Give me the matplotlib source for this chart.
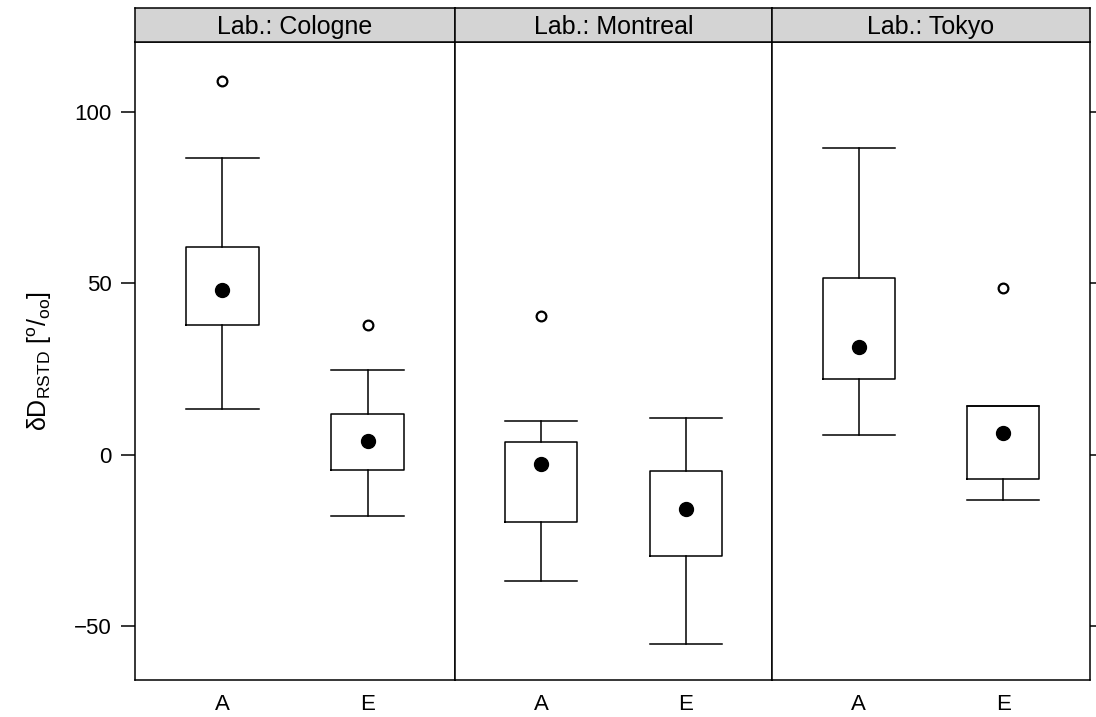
import matplotlib
matplotlib.use("Agg")
import matplotlib.pyplot as plt

plt.rcParams['font.family'] = ['Liberation Sans', 'DejaVu Sans']
plt.rcParams['mathtext.fontset'] = 'custom'
plt.rcParams['mathtext.rm'] = 'Liberation Sans'
plt.rcParams['mathtext.it'] = 'Liberation Sans'

labs = ["Cologne", "Montreal", "Tokyo"]
groups = ["A", "E"]

# per lab: [A, E]
whislo = [[13.2, -18.0], [-37.0, -55.3], [5.8, -13.2]]
q1 = [[38.0, -4.4], [-19.6, -29.7], [22.0, -7.1]]
med = [[48.2, 4.1], [-2.6, -15.8], [31.4, 6.2]]
q3 = [[60.5, 12.0], [3.8, -4.7], [51.7, 14.1]]
whishi = [[86.5, 24.6], [9.7, 10.8], [89.5, 14.1]]
fliers = [[[109.0], [38.0]], [[40.4], []], [[], [48.8]]]

W, H = 1096, 717
fig = plt.figure(figsize=(W / 100, H / 100), dpi=100)

panel_x = [135, 455, 772, 1090]
y_bot, y_top, strip_top = 680, 42, 8

lw = 1.1
for i, lab in enumerate(labs):
    x0 = panel_x[i] / W
    w = (panel_x[i + 1] - panel_x[i]) / W
    ax = fig.add_axes([x0, 1 - y_bot / H, w, (y_bot - y_top) / H])
    stats = []
    for j, g in enumerate(groups):
        stats.append(dict(label=g, whislo=whislo[i][j], q1=q1[i][j], med=med[i][j],
                          q3=q3[i][j], whishi=whishi[i][j], fliers=fliers[i][j]))
    ax.bxp(stats, positions=[1, 2], widths=0.5, capwidths=0.5,
           boxprops=dict(color='black', linewidth=lw),
           whiskerprops=dict(color='black', linewidth=lw, linestyle='-'),
           capprops=dict(color='black', linewidth=lw),
           medianprops=dict(visible=False),
           flierprops=dict(marker='o', markerfacecolor='white', markeredgecolor='black',
                           markersize=7, markeredgewidth=1.6))
    ax.plot([1, 2], med[i], 'o', color='black', markersize=10, zorder=5)
    ax.set_xlim(0.4, 2.6)
    ax.set_ylim(-65.8, 120.5)
    ax.set_yticks([-50, 0, 50, 100])
    ax.set_xticks([1, 2])
    ax.set_xticklabels(groups, fontsize=16)
    ax.tick_params(axis='x', length=0, pad=10)
    ax.tick_params(axis='y', direction='out', length=10, width=lw, pad=7, labelsize=16)
    for sp in ax.spines.values():
        sp.set_linewidth(lw)
    if i == 0:
        ax.set_ylabel(r'$\delta\mathrm{D}_{\mathrm{RSTD}}\ [^{\mathrm{o}}/_{\mathrm{oo}}]$',
                      fontsize=18, labelpad=14)
    elif i == 2:
        ax.yaxis.tick_right()
        ax.tick_params(axis='y', labelright=False, length=6)
    else:
        ax.tick_params(axis='y', left=False, labelleft=False)

    sax = fig.add_axes([x0, 1 - y_top / H, w, (y_top - strip_top) / H])
    sax.set_facecolor('#d4d4d4')
    sax.set_xticks([])
    sax.set_yticks([])
    for sp in sax.spines.values():
        sp.set_linewidth(lw)
    sax.text(0.5, 0.45, "Lab.: " + lab, ha='center', va='center', fontsize=18,
             transform=sax.transAxes)

fig.savefig("out.png", dpi=100)
